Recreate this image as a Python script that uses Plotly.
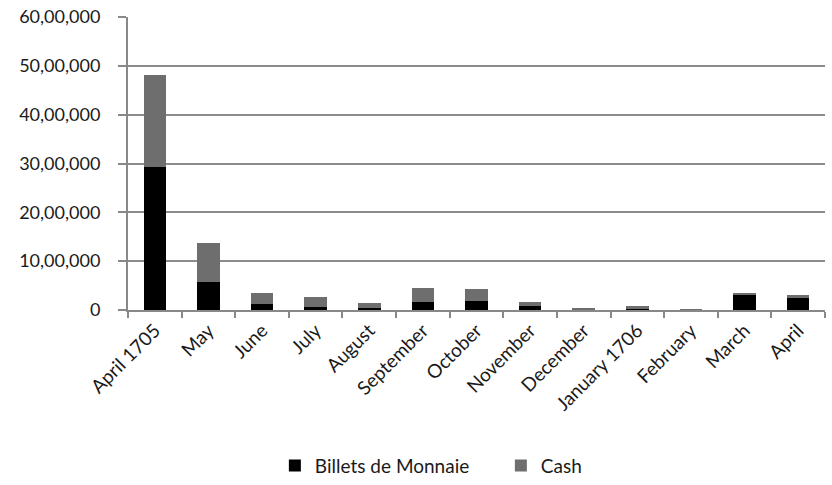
import plotly.graph_objects as go

months = ["April 1705", "May", "June", "July", "August", "September", "October",
          "November", "December", "January 1706", "February", "March", "April"]
billets = [2920000, 570000, 120000, 70000, 50000, 160000, 190000, 80000, 10000, 20000, 5000, 310000, 250000]
cash = [1900000, 800000, 220000, 200000, 100000, 300000, 250000, 80000, 25000, 70000, 15000, 40000, 50000]
tick_vals = [0, 1000000, 2000000, 3000000, 4000000, 5000000, 6000000]
tick_text = ["0", "10,00,000", "20,00,000", "30,00,000", "40,00,000", "50,00,000", "60,00,000"]

fig = go.Figure()
fig.add_trace(go.Bar(x=months, y=billets, name="Billets de Monnaie",
                     marker=dict(color="#000000", line=dict(width=0))))
fig.add_trace(go.Bar(x=months, y=cash, name="Cash",
                     marker=dict(color="#6e6e6e", line=dict(width=0))))

fig.update_layout(
    barmode="stack",
    bargap=0.58,
    width=832, height=485,
    margin=dict(l=128, r=7, t=17, b=175),
    plot_bgcolor="white", paper_bgcolor="white",
    font=dict(family="Lato, Open Sans, sans-serif", size=19, color="#1a1a1a"),
    legend=dict(orientation="h", x=0.602, xref="container", xanchor="center",
                y=0.04, yref="container", yanchor="middle",
                font=dict(size=19), traceorder="normal", itemwidth=30,
                entrywidth=181, entrywidthmode="pixels"),
    showlegend=True,
)
fig.update_xaxes(
    tickangle=-45, showline=True, linecolor="#888888", linewidth=2,
    ticks="outside", tickson="boundaries", ticklen=6, tickcolor="#888888", tickwidth=2,
    showgrid=False, automargin=False,
)
fig.update_yaxes(
    range=[0, 6000000], tickvals=tick_vals, ticktext=tick_text,
    showline=True, linecolor="#888888", linewidth=2,
    ticks="outside", ticklen=8, tickcolor="#888888", tickwidth=2,
    tickfont=dict(size=18), ticklabelstandoff=14, automargin=False,
    showgrid=True, gridcolor="#8c8c8c", gridwidth=2, zeroline=False,
)

fig.write_html("out.html", post_script="document.body.style.margin='0';",
               config={"displayModeBar": False})
